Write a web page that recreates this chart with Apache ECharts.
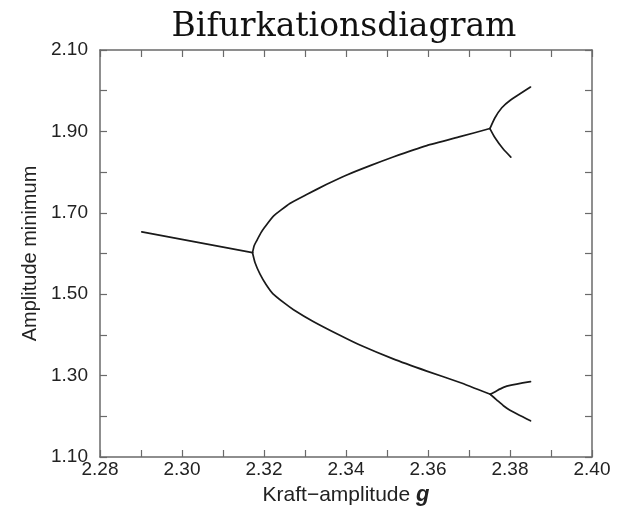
<!DOCTYPE html>
<html>
<head>
<meta charset="utf-8">
<script src="https://cdn.jsdelivr.net/npm/echarts@6/dist/echarts.min.js"></script>
<style>html,body{margin:0;padding:0;background:#fff;}#c{width:617px;height:511px;}</style>
</head>
<body>
<div id="c"></div>
<script>
// Period-1 branch before first bifurcation
const stemX = [2.2902, 2.3172];
const stemY = [1.653, 1.602];
// Upper branch after first bifurcation
const upperX = [2.3172, 2.3176, 2.3182, 2.3192, 2.3202, 2.3223, 2.3263, 2.3304, 2.3353, 2.3402, 2.3459, 2.3515, 2.3597, 2.3678, 2.3751];
const upperY = [1.602, 1.619, 1.631, 1.650, 1.665, 1.692, 1.723, 1.745, 1.770, 1.793, 1.816, 1.837, 1.865, 1.887, 1.907];
// Lower branch after first bifurcation
const lowerX = [2.3172, 2.3178, 2.3190, 2.3205, 2.3222, 2.3250, 2.3272, 2.3320, 2.3385, 2.3434, 2.3515, 2.3597, 2.3678, 2.3752];
const lowerY = [1.602, 1.578, 1.550, 1.524, 1.501, 1.478, 1.462, 1.433, 1.399, 1.375, 1.341, 1.311, 1.283, 1.254];
// Second bifurcations
const uuX = [2.3751, 2.3763, 2.3780, 2.3800, 2.3850];
const uuY = [1.907, 1.933, 1.958, 1.976, 2.009];
const ulX = [2.3751, 2.3763, 2.3784, 2.3802];
const ulY = [1.907, 1.885, 1.856, 1.837];
const luX = [2.3752, 2.3768, 2.3784, 2.3800, 2.3850];
const luY = [1.254, 1.263, 1.271, 1.276, 1.285];
const llX = [2.3752, 2.3768, 2.3784, 2.3800, 2.3850];
const llY = [1.254, 1.240, 1.226, 1.215, 1.189];

const titleText = 'Bifurkationsdiagram';
const xName = 'Kraft\u2212amplitude ';
const yName = 'Amplitude minimum';

function pairs(xs, ys){ return xs.map((x,i)=>[x, ys[i]]); }
const branches = [[stemX,stemY],[upperX,upperY],[lowerX,lowerY],[uuX,uuY],[ulX,ulY],[luX,luY],[llX,llY]];

const frame = {show:true, lineStyle:{color:'#6a6a6a', width:1.5}};
const tickIn = {show:true, inside:true, length:7, lineStyle:{color:'#6a6a6a', width:1.2}};
const minorIn = {show:true, splitNumber:2, length:7, lineStyle:{color:'#6a6a6a', width:1.2}};
const sans = 'Liberation Sans, Arial, Helvetica, sans-serif';
const lblFont = {fontFamily:sans, fontSize:19, color:'#222'};

const chart = echarts.init(document.getElementById('c'));
chart.setOption({
  animation:false,
  backgroundColor:'#fff',
  title:{text:titleText, left:339, textAlign:'center', top:6,
    textStyle:{fontFamily:'DejaVu Serif, Liberation Serif, serif', fontWeight:'normal', fontSize:33, color:'#111'}},
  grid:{left:100, right:25, top:50, bottom:52},
  xAxis:[
    {type:'value', min:2.28, max:2.40, interval:0.02, position:'bottom',
     axisLine:frame, axisTick:tickIn, minorTick:minorIn, splitLine:{show:false},
     axisLabel:Object.assign({margin:3, formatter:v=>v.toFixed(2)}, lblFont),
     name:xName+'{g|g}', nameLocation:'middle', nameGap:27,
     nameTextStyle:{fontFamily:sans, fontSize:21, color:'#222',
       rich:{g:{fontFamily:sans, fontSize:22, fontWeight:'bold', fontStyle:'italic', color:'#222'}}}},
    {type:'value', min:2.28, max:2.40, interval:0.02, position:'top',
     axisLine:frame, axisTick:tickIn, minorTick:minorIn, splitLine:{show:false}, axisLabel:{show:false}}
  ],
  yAxis:[
    {type:'value', min:1.1, max:2.1, interval:0.2, position:'left',
     axisLine:frame, axisTick:tickIn, minorTick:minorIn, splitLine:{show:false},
     axisLabel:Object.assign({margin:12, formatter:v=>v.toFixed(2)}, lblFont),
     name:yName, nameLocation:'middle', nameGap:58, nameRotate:90,
     nameTextStyle:{fontFamily:sans, fontSize:20, color:'#222'}},
    {type:'value', min:1.1, max:2.1, interval:0.2, position:'right',
     axisLine:frame, axisTick:tickIn, minorTick:minorIn, splitLine:{show:false}, axisLabel:{show:false}}
  ],
  series: branches.map(b=>({type:'line', data:pairs(b[0], b[1]), showSymbol:false, symbol:'none',
    smooth:0.15, lineStyle:{color:'#1a1a1a', width:1.7, join:'round', cap:'round'}}))
});
</script>
</body>
</html>
